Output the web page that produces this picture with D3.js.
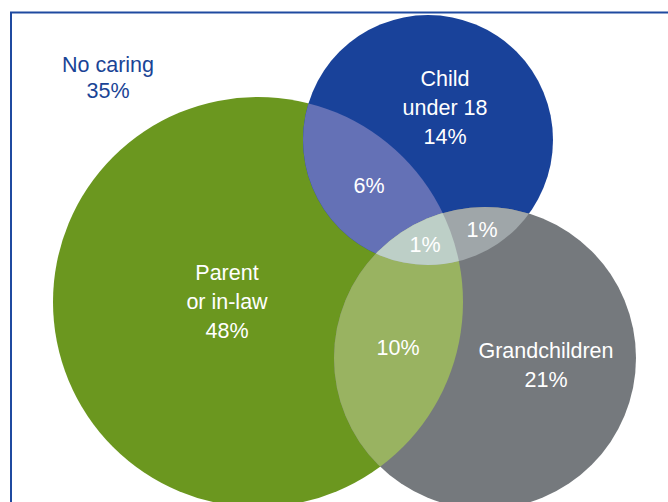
<!DOCTYPE html>
<html>
<head>
<meta charset="utf-8">
<script src="https://cdn.jsdelivr.net/npm/d3@7"></script>
<style>
html,body{margin:0;padding:0;background:#fff;}
svg{display:block;}
</style>
</head>
<body>
<svg id="chart" width="668" height="502"></svg>
<script>
// ---- data ----
const sets = ["Parent", "Child", "Grand"];
const setLabels = [["Parent", "or in-law"], ["Child", "under 18"], ["Grandchildren"]];
const setValues = [48, 14, 21];            // exclusive shares (%)
const overlapKeys = ["Parent&Child", "Parent&Grand", "Child&Grand", "Parent&Child&Grand"];
const overlapValues = [6, 10, 1, 1];
const outsideLabel = "No caring";
const outsideValue = 35;

// ---- layout / style ----
const layout = {
  Parent: {cx: 258, cy: 302, r: 205, fill: "#6b971f", lx: 227, ly: 280},
  Child:  {cx: 428, cy: 140, r: 125, fill: "#19429a", lx: 445, ly: 86},
  Grand:  {cx: 485, cy: 358, r: 151, fill: "#75797d", lx: 546, ly: 358}
};
const overlapStyle = {
  "Parent&Child": {fill: "#6471b6", lx: 369, ly: 193},
  "Parent&Grand": {fill: "#99b361", lx: 398, ly: 355},
  "Child&Grand": {fill: "#9fa6a9", lx: 482, ly: 237},
  "Parent&Child&Grand": {fill: "#bdcfc7", lx: 425, ly: 252}
};
const font = "'Liberation Sans', Arial, sans-serif";
const fs = 21.5, lh = 29;

const svg = d3.select("#chart");
const defs = svg.append("defs");
const fmt = v => v + "%";

// frame
svg.append("path")
  .attr("d", "M11,505 L11,12.5 L672,12.5")
  .attr("fill", "none").attr("stroke", "#1f4aa0").attr("stroke-width", 2);

// clip paths for each circle
sets.forEach(s => {
  defs.append("clipPath").attr("id", "clip-" + s)
    .append("circle").attr("cx", layout[s].cx).attr("cy", layout[s].cy).attr("r", layout[s].r);
});
// nested clip Parent∩Child
defs.append("clipPath").attr("id", "clip-PC").attr("clip-path", "url(#clip-Parent)")
  .append("circle").attr("cx", layout.Child.cx).attr("cy", layout.Child.cy).attr("r", layout.Child.r);

// base circles
svg.append("g").selectAll("circle").data(sets).join("circle")
  .attr("cx", d => layout[d].cx).attr("cy", d => layout[d].cy).attr("r", d => layout[d].r)
  .attr("fill", d => layout[d].fill);

// overlaps
const g = svg.append("g");
function region(key, drawSet, clip) {
  g.append("g").attr("clip-path", "url(#" + clip + ")")
    .append("circle")
    .attr("cx", layout[drawSet].cx).attr("cy", layout[drawSet].cy).attr("r", layout[drawSet].r)
    .attr("fill", overlapStyle[key].fill);
}
region("Parent&Child", "Child", "clip-Parent");
region("Parent&Grand", "Grand", "clip-Parent");
region("Child&Grand", "Grand", "clip-Child");
region("Parent&Child&Grand", "Grand", "clip-PC");

// set labels
const tg = svg.append("g").attr("font-family", font).attr("font-size", fs)
  .attr("fill", "#fff").attr("text-anchor", "middle");
sets.forEach((s, i) => {
  const lines = setLabels[i].concat([fmt(setValues[i])]);
  const t = tg.append("text").attr("x", layout[s].lx).attr("y", layout[s].ly);
  lines.forEach((ln, j) => {
    t.append("tspan").attr("x", layout[s].lx).attr("y", layout[s].ly + j * lh).text(ln);
  });
});
overlapKeys.forEach((k, i) => {
  tg.append("text").attr("x", overlapStyle[k].lx).attr("y", overlapStyle[k].ly).text(fmt(overlapValues[i]));
});

// outside label
const ot = svg.append("text").attr("font-family", font).attr("font-size", fs)
  .attr("fill", "#1a4496").attr("text-anchor", "middle");
ot.append("tspan").attr("x", 108).attr("y", 72).text(outsideLabel);
ot.append("tspan").attr("x", 108).attr("y", 98).text(fmt(outsideValue));
</script>
</body>
</html>
